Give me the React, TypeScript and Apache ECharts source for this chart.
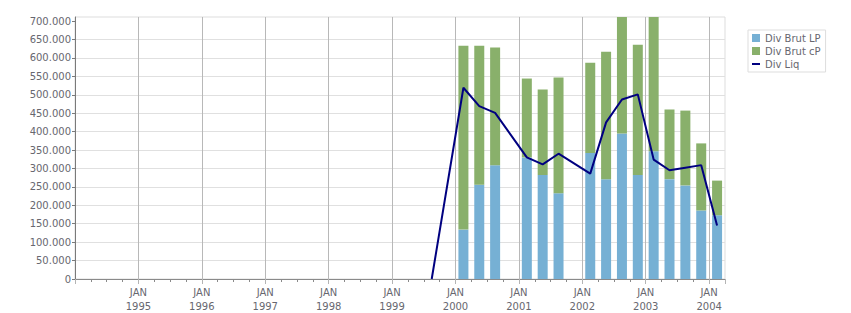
import React, { useEffect, useRef } from "react";
import * as echarts from "echarts";

// Quarter categories (1994 Q1 .. 2004 Q1)
const years = [1994, 1995, 1996, 1997, 1998, 1999, 2000, 2001, 2002, 2003, 2004];
const quarterNames = ["Q1", "Q2", "Q3", "Q4"];
const quarters: string[] = [];
years.forEach((y) => quarterNames.forEach((q) => quarters.push(`${y} ${q}`)));
const categories = quarters.slice(0, 41);

// Year tick labels on the quarter boundaries
const yearLabels = ["1995", "1996", "1997", "1998", "1999", "2000", "2001", "2002", "2003", "2004"];

// Bars
const barQuarters = [
  "2000 Q1", "2000 Q2", "2000 Q3",
  "2001 Q1", "2001 Q2", "2001 Q3",
  "2002 Q1", "2002 Q2", "2002 Q3", "2002 Q4",
  "2003 Q1", "2003 Q2", "2003 Q3", "2003 Q4",
  "2004 Q1",
];
const divBrutLP = [134000, 256000, 309000, 330000, 282000, 233000, 342000, 271000, 395000, 282000, 347000, 271000, 254000, 186000, 173000];
const divBrutCP = [499000, 377000, 319000, 214000, 232000, 314000, 245000, 346000, 316000, 354000, 364000, 189000, 203000, 182000, 94000];

// Line
const lineQuarters = [
  "1999 Q3",
  "2000 Q1", "2000 Q2", "2000 Q3",
  "2001 Q1", "2001 Q2", "2001 Q3",
  "2002 Q1", "2002 Q2", "2002 Q3", "2002 Q4",
  "2003 Q1", "2003 Q2", "2003 Q3", "2003 Q4",
  "2004 Q1",
];
const divLiq = [0, 519000, 469000, 451000, 330000, 311000, 340000, 286000, 425000, 487000, 501000, 324000, 295000, 302000, 309000, 145000];

const yTicks = [0, 50000, 100000, 150000, 200000, 250000, 300000, 350000, 400000, 450000, 500000, 550000, 600000, 650000, 700000];

const FONT = "DejaVu Sans, Verdana, sans-serif";
const TEXT = "#67676f";

function fmt(v: number): string {
  if (v === 0) return "0";
  const s = String(Math.round(v));
  return s.replace(/\B(?=(\d{3})+(?!\d))/g, ".");
}

export default function App() {
  const ref = useRef<HTMLDivElement>(null);
  useEffect(() => {
    if (!ref.current) return;
    const chart = echarts.init(ref.current, undefined, { renderer: "svg" });
    const nCat = categories.length;
    chart.setOption({
      animation: false,
      backgroundColor: "#ffffff",
      textStyle: { fontFamily: FONT },
      grid: {
        left: 75,
        right: 126,
        top: 17,
        bottom: 33,
        show: true,
        borderColor: "#dddddd",
        borderWidth: 1,
        backgroundColor: "transparent",
      },
      legend: {
        orient: "vertical",
        left: 748,
        top: 30,
        padding: [3, 5, 3, 4],
        borderColor: "#dddddd",
        borderWidth: 1,
        itemWidth: 8,
        itemHeight: 8,
        itemGap: 3,
        symbolKeepAspect: true,
        textStyle: { fontFamily: FONT, fontSize: 10, color: TEXT },
        data: [
          { name: "Div Brut LP", icon: "rect" },
          { name: "Div Brut cP", icon: "rect" },
          { name: "Div Liq", icon: "path://M0,0 L8,0 L8,2 L0,2 Z" },
        ],
      },
      xAxis: [
        {
          type: "category",
          data: categories,
          boundaryGap: true,
          show: false,
        },
        {
          type: "value",
          min: 0,
          max: nCat,
          interval: 1,
          position: "bottom",
          axisLine: { show: true, lineStyle: { color: "#8a8a8a", width: 1 } },
          axisTick: { show: true, length: 3, lineStyle: { color: "#8a8a8a" } },
          axisLabel: { show: false },
          splitLine: { show: false },
        },
        {
          type: "value",
          min: 0,
          max: nCat,
          interval: 4,
          position: "bottom",
          axisLine: { show: false },
          axisTick: { show: true, length: 5, lineStyle: { color: "#b4b4b4" } },
          axisLabel: {
            show: true,
            margin: 6,
            fontFamily: FONT,
            fontSize: 10,
            lineHeight: 14,
            color: TEXT,
            formatter: (v: number) => {
              if (v <= 0 || v % 4 !== 0) return "";
              const lbl = yearLabels[v / 4 - 1];
              return lbl ? `JAN\n${lbl}` : "";
            },
          },
          splitLine: { show: true, showMinLine: false, showMaxLine: false, lineStyle: { color: "#b8b8b8", width: 1 } },
        },
      ],
      yAxis: {
        type: "value",
        min: 0,
        max: 711000,
        interval: 50000,
        axisLine: { show: true, lineStyle: { color: "#7a7a7a", width: 1 } },
        axisTick: { show: true, length: 3, customValues: yTicks, lineStyle: { color: "#7a7a7a" } },
        axisLabel: {
          fontFamily: FONT,
          fontSize: 10,
          color: TEXT,
          margin: 4,
          customValues: yTicks,
          formatter: (v: number) => (v % 50000 === 0 ? fmt(v) : ""),
        },
        splitLine: { show: true, showMaxLine: false, lineStyle: { color: "#e0e0e0", width: 1 } },
      },
      series: [
        {
          name: "Div Brut LP",
          type: "bar",
          stack: "brut",
          xAxisIndex: 0,
          barWidth: 10,
          itemStyle: { color: "#76b0d4" },
          data: barQuarters.map((q, i) => [q, divBrutLP[i]]),
        },
        {
          name: "Div Brut cP",
          type: "bar",
          stack: "brut",
          xAxisIndex: 0,
          barWidth: 10,
          itemStyle: { color: "#89b06b" },
          data: barQuarters.map((q, i) => [q, divBrutCP[i]]),
        },
        {
          name: "Div Liq",
          type: "line",
          xAxisIndex: 0,
          symbol: "none",
          showSymbol: false,
          lineStyle: { color: "#000080", width: 2 },
          itemStyle: { color: "#000080" },
          z: 5,
          data: lineQuarters.map((q, i) => [q, divLiq[i]]),
        },
      ],
    });
    return () => chart.dispose();
  }, []);
  return (
    <div
      ref={ref}
      style={{ position: "absolute", left: 0, top: 0, width: 851, height: 313 }}
    />
  );
}
